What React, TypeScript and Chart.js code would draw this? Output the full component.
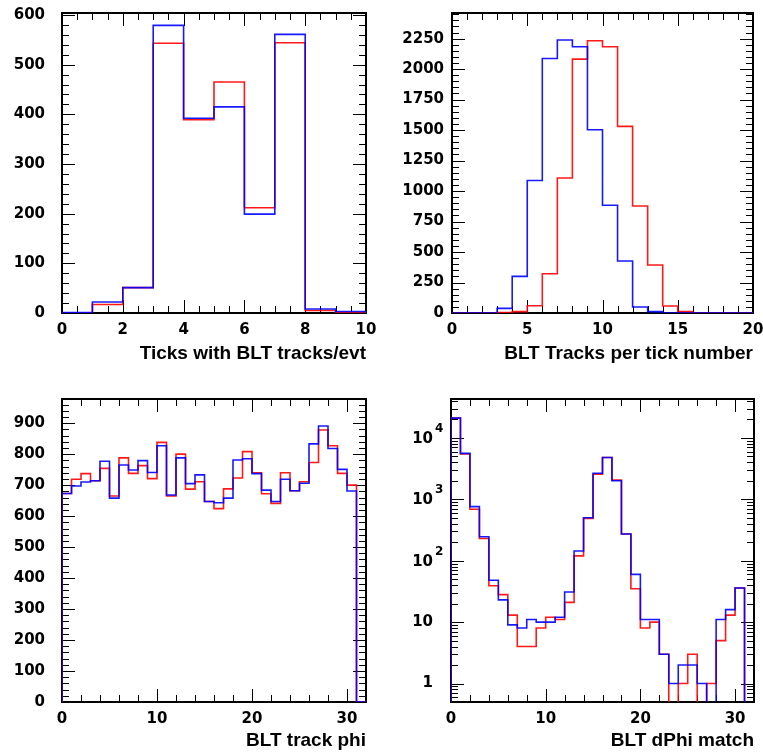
import React, { useEffect, useRef } from 'react';
import { Chart, registerables } from 'chart.js';

Chart.register(...registerables);

// ---------- Panel 1: Ticks with BLT tracks/evt (bins of width 1 from 0 to 10)
const p1Red = [0, 17, 51, 543, 389, 465, 212, 544, 5, 1];
const p1Blue = [1, 22, 51, 579, 392, 415, 199, 561, 8, 3];
const p1XTicks = [0, 2, 4, 6, 8, 10];
const p1YTicks = [0, 100, 200, 300, 400, 500, 600];

// ---------- Panel 2: BLT Tracks per tick number (bins 0..20)
const p2Red = [0, 0, 0, 4, 11, 60, 322, 1107, 2082, 2232, 2183, 1530, 877, 393, 57, 11, 0, 0, 0, 0];
const p2Blue = [0, 0, 0, 38, 300, 1087, 2087, 2238, 2183, 1503, 883, 426, 49, 11, 0, 0, 0, 0, 0, 0];
const p2XTicks = [0, 5, 10, 15, 20];
const p2YTicks = [0, 250, 500, 750, 1000, 1250, 1500, 1750, 2000, 2250];

// ---------- Panel 3: BLT track phi (bins 0..32)
const p3Red = [673, 719, 737, 714, 754, 665, 788, 738, 763, 721, 838, 665, 800, 687, 711, 647, 624, 688, 723, 808, 740, 672, 641, 740, 682, 711, 773, 878, 827, 738, 700, 0];
const p3Blue = [673, 697, 710, 714, 777, 658, 765, 749, 779, 741, 827, 668, 788, 705, 733, 647, 643, 658, 781, 785, 737, 684, 647, 719, 682, 706, 833, 891, 818, 751, 681, 0];
const p3XTicks = [0, 10, 20, 30];
const p3YTicks = [0, 100, 200, 300, 400, 500, 600, 700, 800, 900];

// ---------- Panel 4: BLT dPhi match (bins 0..32, log y)
const p4Red = [21000, 5500, 690, 230, 39, 28, 13, 4, 4, 8, 12, 11, 21, 120, 490, 2560, 4800, 2050, 272, 35, 8, 10, 3, 0, 1, 3, 0, 1, 5, 13, 36, 0];
const p4Blue = [21000, 5600, 760, 245, 48, 23, 9, 8, 11, 10, 10, 12, 31, 144, 500, 2660, 4800, 2000, 272, 60, 11, 11, 3, 1, 2, 2, 1, 0, 11, 16, 36, 0];
const p4XTicks = [0, 10, 20, 30];
const p4YExponents = [0, 1, 2, 3, 4];

const TICK_FONT = { family: "'DejaVu Sans', sans-serif", weight: 'bold' as const, size: 15 };
const TITLE_FONT = { family: "'Liberation Sans', Arial, sans-serif", weight: 'bold' as const, size: 19 };

function histPoints(vals: number[], floor: number) {
  const pts: { x: number; y: number }[] = [{ x: 0, y: floor }];
  vals.forEach((v, i) => pts.push({ x: i, y: v > 0 ? v : floor }));
  pts.push({ x: vals.length, y: floor });
  return pts;
}

function stepList(min: number, max: number, step: number) {
  const out: number[] = [];
  for (let v = min; v <= max + 1e-9; v += step) out.push(Math.round(v * 1000) / 1000);
  return out;
}

function logMinor(min: number, max: number) {
  const out: number[] = [];
  for (let d = Math.floor(Math.log10(min)); d <= Math.ceil(Math.log10(max)); d++) {
    for (let m = 2; m <= 9; m++) {
      const v = m * Math.pow(10, d);
      if (v >= min && v <= max) out.push(v);
    }
  }
  return out;
}

const rootFrame = {
  id: 'rootFrame',
  beforeDatasetsDraw(chart: any, _args: any, opts: any) {
    const { ctx, chartArea: a, scales } = chart;
    const xs = scales.x;
    const ys = scales.y;
    const MAJ = 13;
    const MIN = 7;
    ctx.save();
    ctx.strokeStyle = '#000';
    ctx.lineWidth = 1;
    ctx.beginPath();
    const xt = (v: number, len: number) => {
      const p = Math.round(xs.getPixelForValue(v)) + 0.5;
      ctx.moveTo(p, a.bottom);
      ctx.lineTo(p, a.bottom - len);
      ctx.moveTo(p, a.top);
      ctx.lineTo(p, a.top + len);
    };
    const yt = (v: number, len: number) => {
      const p = Math.round(ys.getPixelForValue(v)) + 0.5;
      ctx.moveTo(a.left, p);
      ctx.lineTo(a.left + len, p);
      ctx.moveTo(a.right, p);
      ctx.lineTo(a.right - len, p);
    };
    (opts.xMinor || []).forEach((v: number) => xt(v, MIN));
    (opts.xMajor || []).forEach((v: number) => xt(v, MAJ));
    (opts.yMinor || []).forEach((v: number) => yt(v, MIN));
    (opts.yMajor || []).forEach((v: number) => yt(v, MAJ));
    ctx.stroke();
    ctx.lineWidth = 2;
    ctx.strokeRect(a.left, a.top, a.right - a.left, a.bottom - a.top);

    if (opts.logExps) {
      ctx.fillStyle = '#000';
      ctx.textBaseline = 'middle';
      const xr = a.left - 18;
      opts.logExps.forEach((e: number) => {
        const p = ys.getPixelForValue(Math.pow(10, e));
        ctx.font = `bold 15px 'DejaVu Sans', sans-serif`;
        ctx.textAlign = 'right';
        if (e === 0) {
          ctx.fillText('1', xr, p);
        } else if (e === 1) {
          ctx.fillText('10', xr, p);
        } else {
          ctx.fillText('10', xr, p + 1);
          ctx.font = `bold 12px 'DejaVu Sans', sans-serif`;
          ctx.textAlign = 'left';
          ctx.fillText(String(e), xr + 2, p - 9);
        }
      });
    }
    ctx.restore();
  },
};

type Panel = {
  box: [number, number, number, number]; // canvas left, top, width, height
  area: [number, number, number, number]; // plot left, top, right, bottom
  red: number[];
  blue: number[];
  xMax: number;
  yMin: number;
  yMax: number;
  log?: boolean;
  xTicks: number[];
  yTicks: number[];
  xMinorStep: number;
  yMinorStep: number;
  title: string;
  yPad: number;
  titlePad: number;
};

const panels: Panel[] = [
  {
    box: [0, 0, 381, 378], area: [62, 13, 366, 313],
    red: p1Red, blue: p1Blue, xMax: 10, yMin: 0, yMax: 604,
    xTicks: p1XTicks, yTicks: p1YTicks, xMinorStep: 0.5, yMinorStep: 20,
    title: 'Ticks with BLT tracks/evt', yPad: 17, titlePad: 13,
  },
  {
    box: [381, 0, 382, 378], area: [452, 13, 753, 313],
    red: p2Red, blue: p2Blue, xMax: 20, yMin: 0, yMax: 2460,
    xTicks: p2XTicks, yTicks: p2YTicks, xMinorStep: 1, yMinorStep: 50,
    title: 'BLT Tracks per tick number', yPad: 8, titlePad: 13,
  },
  {
    box: [0, 378, 381, 378], area: [62, 399, 366, 702],
    red: p3Red, blue: p3Blue, xMax: 32, yMin: 0, yMax: 978,
    xTicks: p3XTicks, yTicks: p3YTicks, xMinorStep: 2, yMinorStep: 20,
    title: 'BLT track phi', yPad: 17, titlePad: 4,
  },
  {
    box: [381, 378, 382, 378], area: [451, 399, 754, 702],
    red: p4Red, blue: p4Blue, xMax: 32, yMin: 0.5, yMax: 43000, log: true,
    xTicks: p4XTicks, yTicks: p4YExponents.map((e) => Math.pow(10, e)), xMinorStep: 2, yMinorStep: 0,
    title: 'BLT dPhi match', yPad: 8, titlePad: 4,
  },
];

function HistPanel({ p }: { p: Panel }) {
  const ref = useRef<HTMLCanvasElement | null>(null);
  useEffect(() => {
    if (!ref.current) return;
    const [cx, cy, cw, ch] = p.box;
    const [L, T, R, B] = p.area;
    const floor = p.log ? 1e-3 : 0;
    const zeroPad = (s: any) => {
      s.paddingLeft = 0;
      s.paddingRight = 0;
      s.paddingTop = 0;
      s.paddingBottom = 0;
    };
    const chart = new Chart(ref.current, {
      type: 'line',
      data: {
        datasets: [
          {
            data: histPoints(p.blue, floor),
            borderColor: 'rgba(0,0,255,0.9)',
            borderWidth: 1.6,
            stepped: 'before',
            pointRadius: 0,
            fill: false,
            tension: 0,
          },
          {
            data: histPoints(p.red, floor),
            borderColor: 'rgba(255,0,0,0.9)',
            borderWidth: 1.6,
            stepped: 'before',
            pointRadius: 0,
            fill: false,
            tension: 0,
          },
        ],
      },
      options: {
        animation: false,
        responsive: false,
        maintainAspectRatio: false,
        events: [],
        layout: { padding: { left: 0, top: T - cy, right: cx + cw - R, bottom: 0 } },
        plugins: {
          legend: { display: false },
          tooltip: { enabled: false },
          rootFrame: {
            xMajor: p.xTicks,
            xMinor: stepList(0, p.xMax, p.xMinorStep),
            yMajor: p.yTicks,
            yMinor: p.log ? logMinor(p.yMin, p.yMax) : stepList(p.yMin, p.yMax, p.yMinorStep),
            logExps: p.log ? p4YExponents : null,
          },
        } as any,
        scales: {
          x: {
            type: 'linear',
            min: 0,
            max: p.xMax,
            grid: { display: false, drawTicks: false },
            border: { display: false },
            ticks: {
              autoSkip: false,
              maxRotation: 0,
              padding: 8,
              color: '#000',
              font: TICK_FONT,
              callback: (v: any) => String(v),
            },
            title: {
              display: true,
              text: p.title,
              align: 'end',
              color: '#000',
              font: TITLE_FONT,
              padding: { top: 0, bottom: p.titlePad },
            },
            afterBuildTicks: (s: any) => {
              s.ticks = p.xTicks.map((v) => ({ value: v }));
            },
            afterFit: (s: any) => {
              s.height = cy + ch - B;
              zeroPad(s);
            },
          },
          y: {
            type: p.log ? 'logarithmic' : 'linear',
            min: p.yMin,
            max: p.yMax,
            grid: { display: false, drawTicks: false },
            border: { display: false },
            ticks: {
              display: !p.log,
              autoSkip: false,
              padding: p.yPad,
              color: '#000',
              font: TICK_FONT,
              callback: (v: any) => String(v),
            },
            afterBuildTicks: (s: any) => {
              s.ticks = p.yTicks.map((v) => ({ value: v }));
            },
            afterFit: (s: any) => {
              s.width = L - cx;
              zeroPad(s);
            },
          },
        } as any,
      },
      plugins: [rootFrame as any],
    });
    return () => chart.destroy();
  }, [p]);
  const [cx, cy, cw, ch] = p.box;
  return (
    <canvas
      ref={ref}
      width={cw}
      height={ch}
      style={{ position: 'absolute', left: cx, top: cy, width: cw, height: ch }}
    />
  );
}

export default function App() {
  useEffect(() => {
    document.body.style.margin = '0';
    document.body.style.overflow = 'hidden';
  }, []);
  return (
    <div
      style={{
        position: 'absolute',
        left: 0,
        top: 0,
        width: 763,
        height: 756,
        overflow: 'hidden',
        background: '#fff',
      }}
    >
      {panels.map((p, i) => (
        <HistPanel key={i} p={p} />
      ))}
    </div>
  );
}
